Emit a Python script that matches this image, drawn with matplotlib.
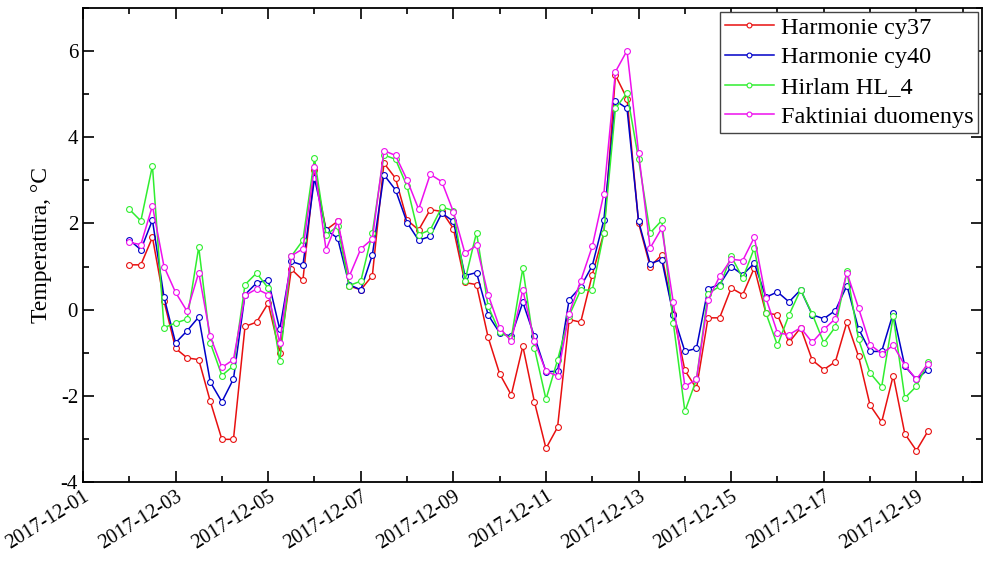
import matplotlib
matplotlib.use("Agg")
import matplotlib.pyplot as plt
import matplotlib.dates as mdates
import matplotlib.transforms as mtransforms
from matplotlib.ticker import MultipleLocator
import pandas as pd

plt.rcParams['font.family'] = ['Liberation Serif', 'DejaVu Serif']
plt.rcParams['axes.unicode_minus'] = False

# 6-hourly air temperature, 2017-12-02 00:00 .. 2017-12-19 06:00
times = pd.date_range('2017-12-02 00:00', periods=70, freq='6h')

harmonie_cy37 = [
    1.04, 1.04, 1.68, 0.20, -0.90, -1.12, -1.16, -2.13, -3.01, -3.01,
    -0.39, -0.29, 0.15, -1.00, 0.94, 0.68, 3.24, 1.85, 2.05, 0.55,
    0.46, 0.79, 3.40, 3.05, 2.08, 1.85, 2.32, 2.28, 1.88, 0.63,
    0.58, -0.64, -1.49, -1.98, -0.85, -2.14, -3.22, -2.73, -0.23, -0.29,
    0.81, 1.78, 5.44, 4.90, 2.01, 1.00, 1.27, -0.10, -1.41, -1.83,
    -0.19, -0.19, 0.50, 0.35, 0.97, -0.08, -0.12, -0.76, -0.42, -1.17,
    -1.39, -1.21, -0.29, -1.08, -2.22, -2.61, -1.53, -2.88, -3.27, -2.82,
]
harmonie_cy40 = [
    1.62, 1.39, 2.08, 0.29, -0.77, -0.49, -0.17, -1.68, -2.14, -1.61,
    0.35, 0.62, 0.69, -0.46, 1.12, 1.03, 3.05, 1.85, 1.66, 0.58,
    0.46, 1.27, 3.13, 2.78, 2.02, 1.61, 1.70, 2.24, 2.05, 0.79,
    0.86, -0.12, -0.54, -0.62, 0.17, -0.62, -1.44, -1.43, 0.23, 0.53,
    1.02, 2.08, 4.85, 4.67, 2.05, 1.07, 1.16, -0.12, -0.97, -0.90,
    0.49, 0.58, 1.00, 0.81, 1.08, 0.29, 0.41, 0.18, 0.46, -0.12,
    -0.21, -0.02, 0.56, -0.44, -0.97, -0.97, -0.08, -1.31, -1.62, -1.39,
]
hirlam_hl4 = [
    2.33, 2.06, 3.34, -0.42, -0.31, -0.22, 1.45, -0.77, -1.53, -1.30,
    0.58, 0.85, 0.50, -1.20, 1.24, 1.61, 3.51, 1.74, 1.93, 0.56,
    0.66, 1.78, 3.59, 3.49, 2.86, 1.74, 1.85, 2.38, 2.30, 0.67,
    1.79, 0.08, -0.53, -0.66, 0.96, -0.89, -2.08, -1.17, -0.14, 0.46,
    0.45, 1.78, 4.67, 5.03, 3.49, 1.78, 2.07, -0.31, -2.36, -1.62,
    0.37, 0.54, 1.24, 0.73, 1.43, -0.08, -0.83, -0.12, 0.46, -0.10,
    -0.77, -0.40, 0.89, -0.69, -1.47, -1.79, -0.15, -2.05, -1.78, -1.22,
]
observed = [
    1.56, 1.51, 2.41, 1.00, 0.40, -0.04, 0.86, -0.62, -1.34, -1.16,
    0.33, 0.48, 0.35, -0.77, 1.25, 1.41, 3.32, 1.39, 2.06, 0.77,
    1.41, 1.64, 3.69, 3.58, 3.01, 2.33, 3.14, 2.97, 2.27, 1.31,
    1.49, 0.35, -0.42, -0.73, 0.46, -0.73, -1.43, -1.54, -0.09, 0.67,
    1.47, 2.69, 5.52, 6.01, 3.64, 1.43, 1.89, 0.17, -1.78, -1.62,
    0.22, 0.77, 1.17, 1.14, 1.68, 0.27, -0.54, -0.58, -0.42, -0.76,
    -0.46, -0.21, 0.86, 0.04, -0.81, -1.02, -0.83, -1.29, -1.62, -1.25,
]

series = [
    ('Harmonie cy37', harmonie_cy37, '#e81010'),
    ('Harmonie cy40', harmonie_cy40, '#0000c8'),
    ('Hirlam HL_4', hirlam_hl4, '#30ee30'),
    ('Faktiniai duomenys', observed, '#ee10ee'),
]

fig = plt.figure(figsize=(9.89, 5.65), dpi=100)
ax = fig.add_axes([0.0839, 0.1469, 0.909, 0.8389])

for name, vals, col in series:
    ax.plot(times, vals, '-o', color=col, lw=1.1, ms=4.2,
            mfc='white', mec=col, mew=0.8, label=name)

ax.set_xlim(pd.Timestamp('2017-12-01'), pd.Timestamp('2017-12-20 10:00'))
ax.set_ylim(-4, 7)

ax.xaxis.set_major_locator(mdates.DayLocator(bymonthday=range(1, 32, 2)))
ax.xaxis.set_minor_locator(mdates.DayLocator())
ax.xaxis.set_major_formatter(mdates.DateFormatter('%Y-%m-%d'))
ax.yaxis.set_major_locator(MultipleLocator(2))
ax.yaxis.set_minor_locator(MultipleLocator(1))

ax.tick_params(which='both', direction='in', top=True, right=True,
               width=1.2, labelsize=15)
ax.tick_params(which='major', length=8)
ax.tick_params(which='minor', length=4)
for s in ax.spines.values():
    s.set_linewidth(1.3)

# rotated dates, nudged a little to the right of their ticks
offset = mtransforms.ScaledTranslation(0.1, 0, fig.dpi_scale_trans)
for lbl in ax.get_xticklabels():
    lbl.set_rotation(32)
    lbl.set_ha('right')
    lbl.set_fontsize(14.5)
    lbl.set_transform(lbl.get_transform() + offset)

ax.set_ylabel('Temperatūra, °C', fontsize=17, labelpad=6)

leg = ax.legend(loc='upper right', bbox_to_anchor=(1.0, 1.0), fontsize=17.5,
                fancybox=False, framealpha=1, edgecolor='#444444',
                borderaxespad=0.15, handlelength=2.0, numpoints=1,
                labelspacing=0.32, borderpad=0.2, handletextpad=0.3)
leg.get_frame().set_linewidth(1.0)
for h in leg.legend_handles:
    h.set_markersize(3.5)

fig.savefig('out.png', dpi=100)
